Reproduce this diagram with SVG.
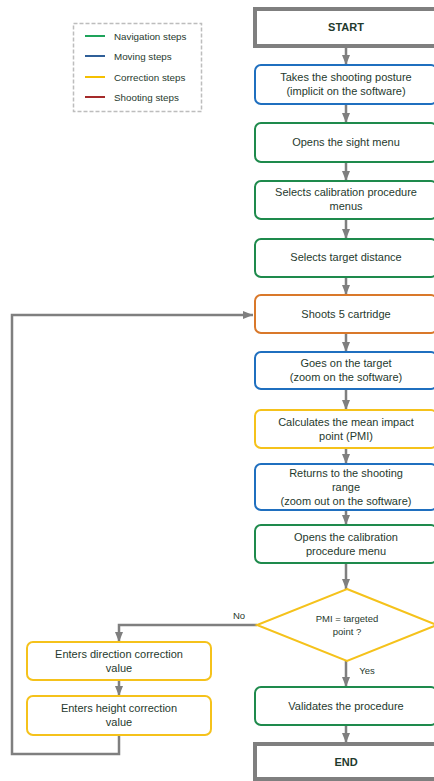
<svg xmlns="http://www.w3.org/2000/svg" width="434" height="781" viewBox="0 0 434 781">
<defs>
<marker id="ah" markerWidth="10" markerHeight="8" refX="10" refY="4" orient="auto" markerUnits="userSpaceOnUse">
<path d="M0,0 L10,4 L0,8 Z" fill="#7f7f7f"/>
</marker>
<style>
.t{font-family:"Liberation Sans",Arial,sans-serif;font-size:11px;fill:#1f3a2e;text-anchor:middle}
.lg{font-family:"Liberation Sans",Arial,sans-serif;font-size:9.8px;fill:#1f3a2e}
.lb{font-family:"Liberation Sans",Arial,sans-serif;font-size:9.5px;fill:#1f3a2e;text-anchor:middle}
.n{fill:#fff;stroke-width:2}
.nav{stroke:#1e8a4c}
.mov{stroke:#1f6fbf}
.cor{stroke:#f5c21b}
.sho{stroke:#d9782a}
.term{fill:#fff;stroke:#7f7f7f;stroke-width:4}
.c{fill:none;stroke:#7f7f7f;stroke-width:2.5;marker-end:url(#ah)}
</style>
</defs>
<rect width="434" height="781" fill="#fff"/>

<g id="legend">
<rect x="73.5" y="23.5" width="128" height="88" fill="#fff" stroke="#bdbdbd" stroke-width="1.5" stroke-dasharray="4,2"/>
<line x1="85" y1="36" x2="105" y2="36" stroke="#1ea35a" stroke-width="2"/>
<text class="lg" x="114" y="39.5">Navigation steps</text>
<line x1="85" y1="56" x2="105" y2="56" stroke="#2f5f98" stroke-width="2"/>
<text class="lg" x="114" y="59.5">Moving steps</text>
<line x1="85" y1="77" x2="105" y2="77" stroke="#f5c000" stroke-width="2"/>
<text class="lg" x="114" y="80.5">Correction steps</text>
<line x1="85" y1="97" x2="105" y2="97" stroke="#a52a2a" stroke-width="2"/>
<text class="lg" x="114" y="100.5">Shooting steps</text>
</g>

<g id="connectors">
<path class="c" d="M346,46 V65"/>
<path class="c" d="M346,104 V123"/>
<path class="c" d="M346,162 V181"/>
<path class="c" d="M346,219 V239"/>
<path class="c" d="M346,277 V295"/>
<path class="c" d="M346,333 V352"/>
<path class="c" d="M346,389 V410"/>
<path class="c" d="M346,448 V464"/>
<path class="c" d="M346,510 V525"/>
<path class="c" d="M346,563 V589"/>
<path class="c" d="M257,625 H119 V642"/>
<path class="c" d="M346,661 V687"/>
<path class="c" d="M119,680 V696"/>
<path class="c" d="M346,725 V743"/>
<path class="c" d="M119,735 V754 H12 V315 H253"/>
<text class="lb" x="239" y="619">No</text>
<text class="lb" x="367" y="674">Yes</text>
</g>

<g id="start">
<rect class="term" x="255" y="9" width="184" height="37"/>
<text class="t" x="346" y="31" font-weight="bold">START</text>
</g>
<g id="n1">
<rect class="n mov" x="255" y="65" width="182" height="39" rx="6"/>
<text class="t" x="346" y="81">Takes the shooting posture</text>
<text class="t" x="346" y="95">(implicit on the software)</text>
</g>
<g id="n2">
<rect class="n nav" x="255" y="123" width="182" height="39" rx="6"/>
<text class="t" x="346" y="146">Opens the sight menu</text>
</g>
<g id="n3">
<rect class="n nav" x="255" y="181" width="182" height="38" rx="6"/>
<text class="t" x="346" y="196">Selects calibration procedure</text>
<text class="t" x="346" y="210">menus</text>
</g>
<g id="n4">
<rect class="n nav" x="255" y="239" width="182" height="38" rx="6"/>
<text class="t" x="346" y="261">Selects target distance</text>
</g>
<g id="n5">
<rect class="n sho" x="255" y="295" width="182" height="38" rx="6"/>
<text class="t" x="346" y="318">Shoots 5 cartridge</text>
</g>
<g id="n6">
<rect class="n mov" x="255" y="352" width="182" height="37" rx="6"/>
<text class="t" x="346" y="367">Goes on the target</text>
<text class="t" x="346" y="381">(zoom on the software)</text>
</g>
<g id="n7">
<rect class="n cor" x="255" y="410" width="182" height="38" rx="6"/>
<text class="t" x="346" y="426">Calculates the mean impact</text>
<text class="t" x="346" y="440">point (PMI)</text>
</g>
<g id="n8">
<rect class="n mov" x="255" y="464" width="182" height="46" rx="6"/>
<text class="t" x="346" y="477">Returns to the shooting</text>
<text class="t" x="346" y="491">range</text>
<text class="t" x="346" y="505">(zoom out on the software)</text>
</g>
<g id="n9">
<rect class="n nav" x="255" y="525" width="182" height="38" rx="6"/>
<text class="t" x="346" y="541">Opens the calibration</text>
<text class="t" x="346" y="555">procedure menu</text>
</g>
<g id="decision">
<path class="n cor" d="M347,589 L437,625 L347,661 L257,625 Z"/>
<text class="lb" x="347" y="622">PMI = targeted</text>
<text class="lb" x="347" y="635">point ?</text>
</g>
<g id="n10">
<rect class="n cor" x="27" y="642" width="184" height="38" rx="6"/>
<text class="t" x="119" y="658">Enters direction correction</text>
<text class="t" x="119" y="672">value</text>
</g>
<g id="n11">
<rect class="n cor" x="27" y="696" width="184" height="39" rx="6"/>
<text class="t" x="119" y="712">Enters height correction</text>
<text class="t" x="119" y="726">value</text>
</g>
<g id="n12">
<rect class="n nav" x="255" y="687" width="182" height="38" rx="6"/>
<text class="t" x="346" y="710">Validates the procedure</text>
</g>
<g id="end">
<rect class="term" x="255" y="744" width="184" height="35"/>
<text class="t" x="346" y="766" font-weight="bold">END</text>
</g>
</svg>
